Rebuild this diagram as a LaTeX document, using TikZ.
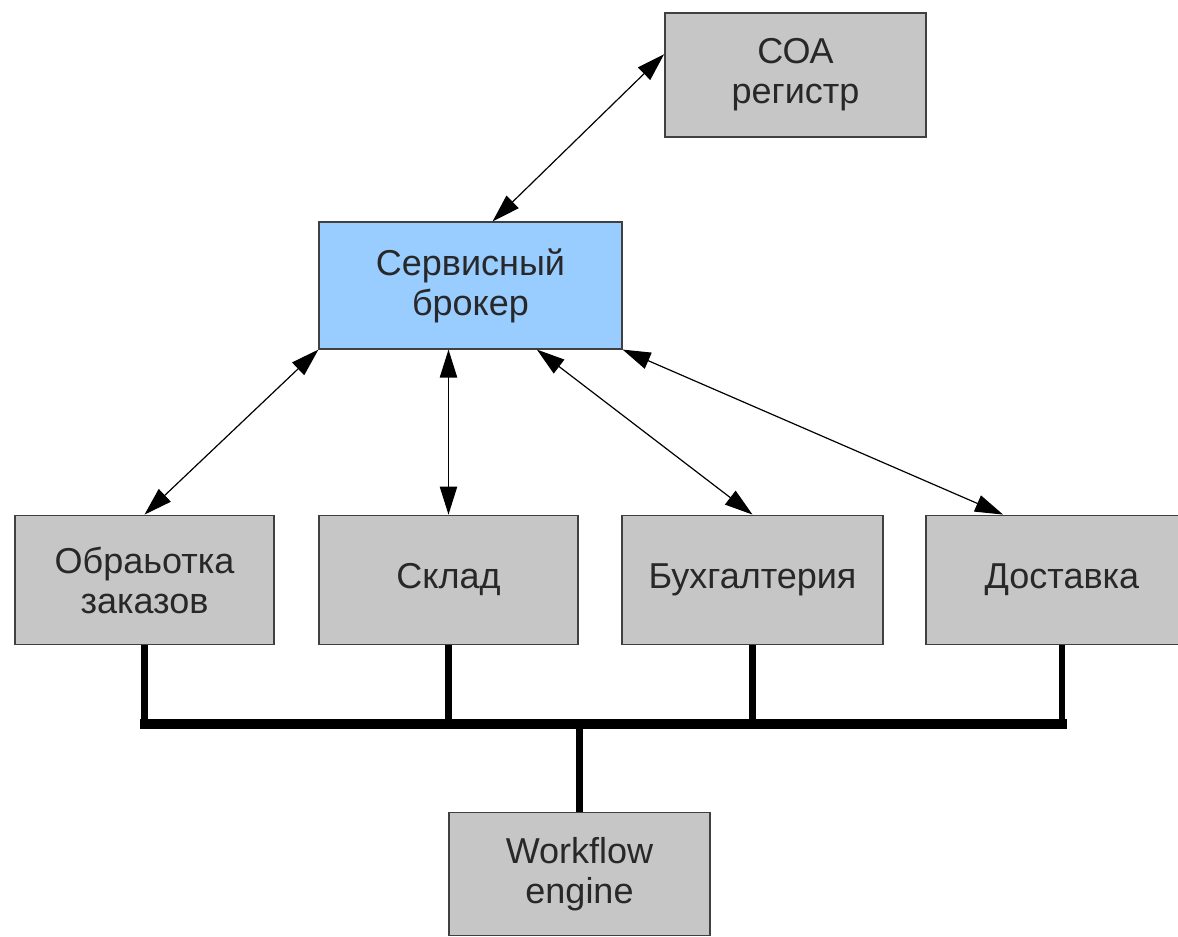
\documentclass[tikz,border=0pt]{standalone}
\usepackage{fontspec}
\setmainfont{Liberation Sans}
\usetikzlibrary{arrows.meta}
\definecolor{boxgray}{RGB}{198,198,198}
\definecolor{brokerblue}{RGB}{153,204,255}
\definecolor{edgegray}{RGB}{64,64,64}
\definecolor{textgray}{RGB}{40,40,40}
\begin{document}
\begin{tikzpicture}[x=0.75pt,y=-0.75pt]
    \tikzstyle{service}=[draw=edgegray,line width=1.1pt,fill=boxgray,inner sep=0pt,
        align=center,text=textgray,font=\fontsize{27}{30}\selectfont]
    \tikzstyle{link}=[line width=0.9pt,{Triangle[length=21pt,width=13pt]}-{Triangle[length=21pt,width=13pt]}]
    \tikzstyle{bus}=[line width=5pt]

    \useasboundingbox (0,0) rectangle (1178,937);

    \node[service,minimum width=196pt,minimum height=93pt] at (795.5,75) (reg) {СОА\\регистр};
    \node[service,fill=brokerblue,minimum width=227pt,minimum height=95pt] at (470.5,285.5) (broker) {Сервисный\\брокер};
    \node[service,minimum width=194pt,minimum height=97pt] at (144.5,580) (orders) {Обраьотка\\заказов};
    \node[service,minimum width=194pt,minimum height=97pt] at (448.5,580) (store) {Склад};
    \node[service,minimum width=196pt,minimum height=97pt] at (752.5,580) (account) {Бухгалтерия};
    \node[service,minimum width=204pt,minimum height=97pt] at (1062,580) (delivery) {Доставка};
    \node[service,minimum width=196pt,minimum height=92pt] at (579.5,874) (engine) {Workflow\\engine};

    \coordinate (bus) at (0,724);

    \draw[link] (broker.71) -- (reg.171);
    \draw[link] (broker.south west) -- (orders.north);
    \draw[link] (store.north |- broker.south) -- (store.north);
    \draw[link] (broker.316) -- (account.north);
    \draw[link] (broker.south east) -- (delivery.132);

    \draw[bus,line width=7pt,line cap=rect] (orders.south |- bus) -- (delivery.south |- bus);
    \draw[bus] (orders.south) -- (orders.south |- bus);
    \draw[bus] (store.south) -- (store.south |- bus);
    \draw[bus] (account.south) -- (account.south |- bus);
    \draw[bus] (delivery.south) -- (delivery.south |- bus);
    \draw[bus] (engine.north) -- (engine.north |- bus);
\end{tikzpicture}
\end{document}
